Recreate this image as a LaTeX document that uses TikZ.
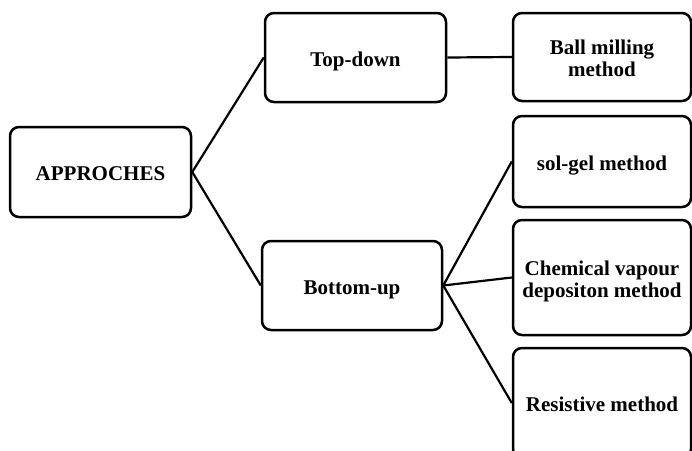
\documentclass[tikz,border=0pt]{standalone}
\usepackage{fontspec}
\setmainfont{Liberation Serif}
\newcommand\boxtext[1]{\raisebox{-9.5pt}[0pt][0pt]{\begin{tabular}{@{}c@{}}#1\end{tabular}}}
\begin{document}
\begin{tikzpicture}[x=1pt,y=-1pt,
  box/.style={draw=black, line width=2.5pt, rounded corners=9pt, fill=white,
    font=\fontsize{21}{22}\selectfont\bfseries, inner sep=0pt},
  conn/.style={line width=2.2pt}]
\useasboundingbox (0,0) rectangle (692,450);
\fill[white] (0,0) rectangle (692,450);
\clip (0,0) rectangle (692,450);
\node[box, minimum width=181pt, minimum height=90pt] (ap) at (100.5,172) {\boxtext{APPROCHES}};
\node[box, minimum width=181pt, minimum height=89pt] (td) at (355.5,57.5) {\boxtext{Top-down}};
\node[box, minimum width=180pt, minimum height=89pt] (bu) at (352,285.5) {\boxtext{Bottom-up}};
\node[box, minimum width=178pt, minimum height=88pt] (bm) at (602,57) {\boxtext{Ball milling\\method}};
\node[box, minimum width=178pt, minimum height=91pt] (sg) at (602,161.5) {\boxtext{sol-gel method}};
\node[box, minimum width=178pt, minimum height=115pt] (cv) at (602,277.5) {\boxtext{Chemical vapour\\depositon method}};
\node[box, minimum width=178pt, minimum height=110pt] (rm) at (602,403) {\boxtext{Resistive method}};
\draw[conn] (ap.east) -- (td.west);
\draw[conn] (ap.east) -- (bu.west);
\draw[conn] (td.east) -- (bm.west);
\draw[conn] (bu.east) -- (sg.west);
\draw[conn] (bu.east) -- (cv.west);
\draw[conn] (bu.east) -- (rm.west);
\end{tikzpicture}
\end{document}
